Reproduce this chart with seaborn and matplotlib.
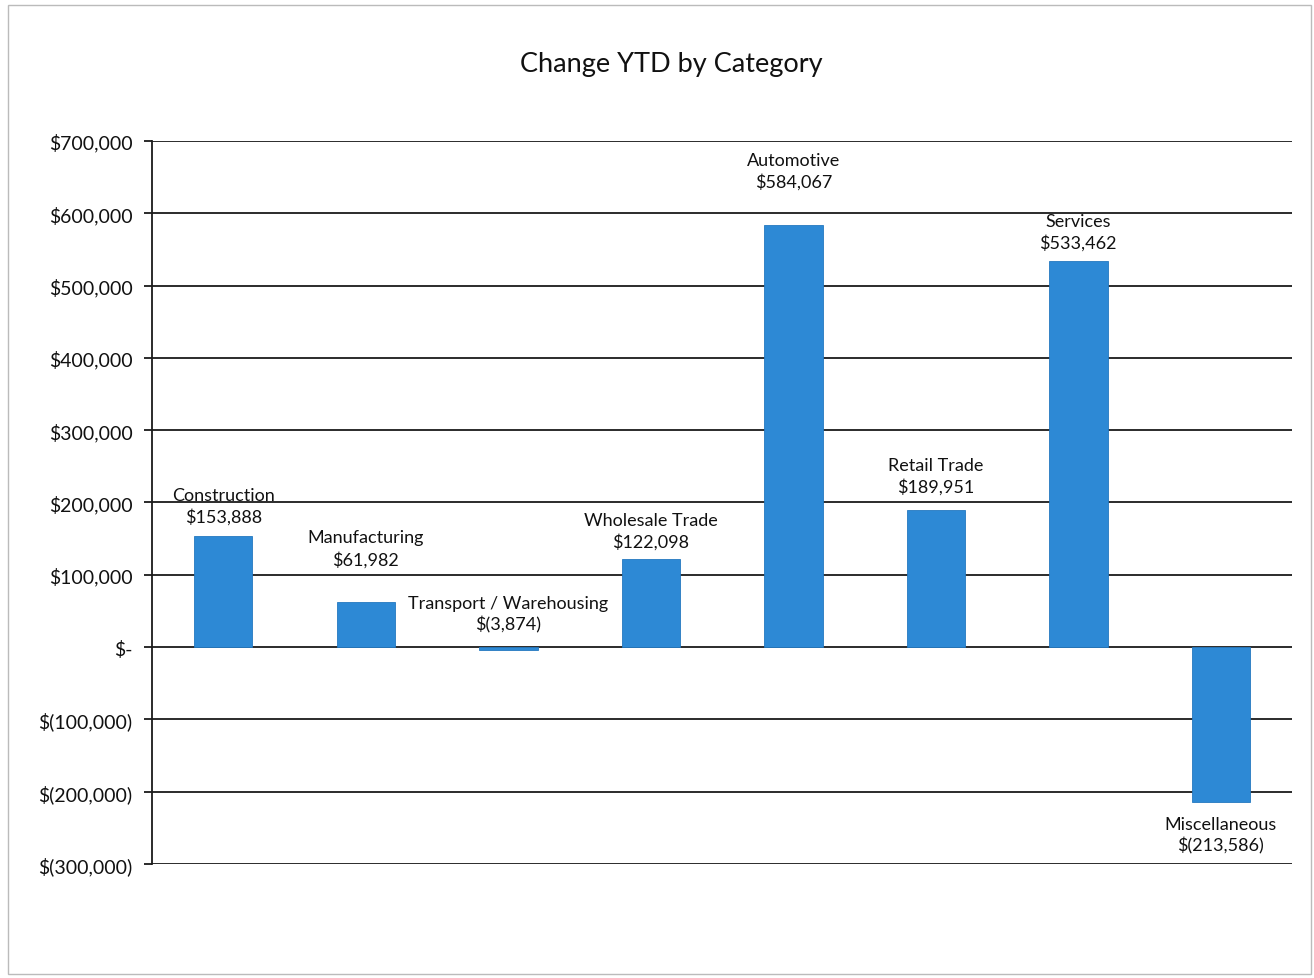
import matplotlib
matplotlib.use("Agg")
import pandas as pd
import seaborn as sns
from matplotlib import pyplot as plt
from matplotlib.patches import Rectangle
from matplotlib.ticker import FuncFormatter

# values
categories = ["Construction", "Manufacturing", "Transport / Warehousing", "Wholesale Trade",
              "Automotive", "Retail Trade", "Services", "Miscellaneous"]
values = [153888, 61982, -3874, 122098, 584067, 189951, 533462, -213586]
y_ticks = list(range(-300000, 700001, 100000))

df = pd.DataFrame({"category": categories, "value": values})


def money(v, pos=None):
    if v == 0:
        return "$-"
    if v < 0:
        return f"$({abs(v):,.0f})"
    return f"${v:,.0f}"


sns.set_theme(style="white")
plt.rcParams["font.family"] = ["Lato", "DejaVu Sans"]

fig = plt.figure(figsize=(13.14, 9.79), dpi=100)
ax = fig.add_axes([0.1157, 0.1164, 0.8676, 0.7386])

sns.barplot(data=df, x="category", y="value", color="#2D89D5", width=0.41,
            saturation=1, edgecolor="#2478C0", linewidth=0.6, ax=ax, zorder=3)

ax.set_ylim(-300000, 700000)
ax.set_yticks(y_ticks)
ax.yaxis.set_major_formatter(FuncFormatter(money))
ax.set_xticks([])
ax.set_xlabel("")
ax.set_ylabel("")
ax.set_xlim(-0.5, len(categories) - 0.5)

for t in y_ticks:
    ax.axhline(t, color="#1a1a1a", linewidth=1.3, zorder=1)

for s in ["top", "right", "bottom"]:
    ax.spines[s].set_visible(False)
ax.spines["left"].set_color("#1a1a1a")
ax.spines["left"].set_linewidth(1.3)
ax.tick_params(axis="y", which="major", left=True, length=6, width=1.3,
               color="#1a1a1a", labelsize=14, labelcolor="#111111", pad=8)

# label offsets (pixels from bar end to label centre)
offsets = [30, 54, 36, 28, 54, 34, 30, -33]
for i, (cat, val) in enumerate(zip(categories, values)):
    off = offsets[i] * 0.72
    ax.annotate(f"{cat}\n{money(val)}", xy=(i, val), xytext=(0, off),
                textcoords="offset points", ha="center", va="center",
                fontsize=13, color="#111111", linespacing=1.35, zorder=5)

fig.suptitle("Change YTD by Category", x=0.511, y=0.947, fontsize=19.5, color="#111111")

fig.patches.append(Rectangle((0.006, 0.004), 0.992, 0.99, transform=fig.transFigure,
                             fill=False, edgecolor="#bbbbbb", linewidth=1))

fig.savefig("out.png", dpi=100)
